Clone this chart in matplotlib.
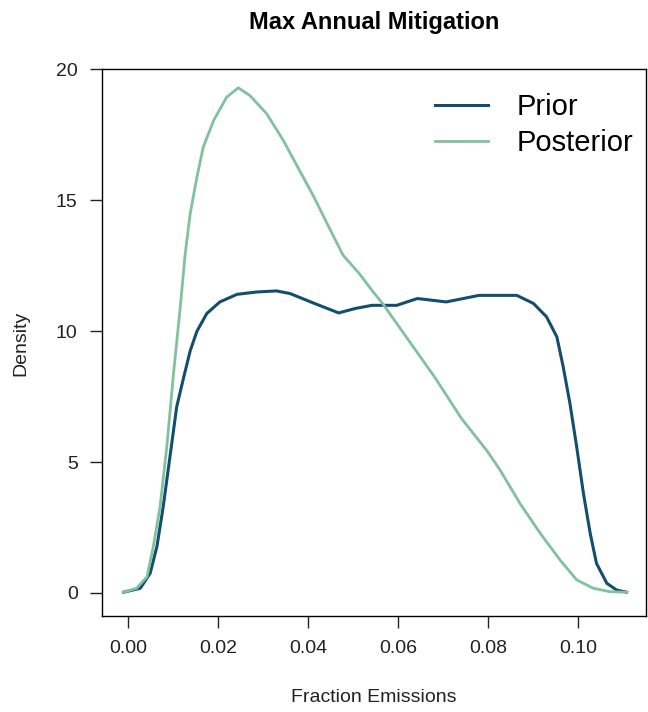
import matplotlib.pyplot as plt

plt.rcParams['font.family'] = ['Liberation Sans', 'DejaVu Sans']

# kernel density estimates of the mitigation fraction
prior_x = [-0.001, 0.0027, 0.0049, 0.0064, 0.0078, 0.0093, 0.0108, 0.0123, 0.0138,
           0.0153, 0.0175, 0.0204, 0.0242, 0.0286, 0.033, 0.036, 0.0413, 0.0468,
           0.0505, 0.0542, 0.0597, 0.0643, 0.0707, 0.078, 0.0827, 0.0864, 0.0901,
           0.093, 0.0953, 0.0967, 0.0982, 0.0997, 0.1012, 0.1027, 0.1041, 0.1064,
           0.1086, 0.1108]
prior_y = [0.03, 0.18, 0.75, 1.77, 3.29, 5.2, 7.11, 8.2, 9.25,
           10.0, 10.68, 11.12, 11.41, 11.5, 11.54, 11.44, 11.07, 10.7,
           10.87, 10.99, 10.99, 11.25, 11.12, 11.37, 11.37, 11.37, 11.06,
           10.55, 9.78, 8.64, 7.24, 5.58, 3.8, 2.28, 1.13, 0.37,
           0.11, 0.03]

post_x = [-0.001, 0.0019, 0.0042, 0.0056, 0.0071, 0.0086, 0.0101, 0.0116, 0.0127,
          0.0138, 0.0153, 0.0167, 0.019, 0.0219, 0.0245, 0.0271, 0.0308, 0.0345,
          0.0377, 0.0413, 0.045, 0.0478, 0.0514, 0.0542, 0.0566, 0.0624, 0.0682,
          0.074, 0.0799, 0.0827, 0.0871, 0.0916, 0.096, 0.0997, 0.1034, 0.1071,
          0.1108]
post_y = [0.03, 0.18, 0.62, 1.77, 3.29, 5.58, 8.39, 10.93, 12.97,
          14.49, 15.89, 17.03, 18.05, 18.94, 19.3, 19.0, 18.31, 17.29,
          16.27, 15.13, 13.85, 12.9, 12.2, 11.56, 11.05, 9.64, 8.23,
          6.69, 5.4, 4.69, 3.42, 2.28, 1.26, 0.5, 0.18, 0.05,
          0.03]

x_ticks = [0.00, 0.02, 0.04, 0.06, 0.08, 0.10]
y_ticks = [0, 5, 10, 15, 20]

prior_col = '#144e6f'
post_col = '#80c19e'

fig = plt.figure(figsize=(6.48, 7.12), dpi=100)
ax = fig.add_axes([0.1574, 0.1348, 0.8395, 0.7676])

ax.plot(prior_x, prior_y, color=prior_col, lw=2.2, label='Prior')
ax.plot(post_x, post_y, color=post_col, lw=2.0, label='Posterior')

ax.set_xlim(-0.0058, 0.1151)
ax.set_ylim(-0.88, 19.98)
ax.set_xticks(x_ticks)
ax.set_xticklabels([f'{v:.2f}' for v in x_ticks])
ax.set_yticks(y_ticks)
ax.set_yticklabels([str(v) for v in y_ticks])

# base-graphics look: full box, long outward ticks
for s in ax.spines.values():
    s.set_linewidth(1.0)
ax.tick_params(length=8.5, width=1.0, labelsize=14, colors='#222222')
ax.tick_params(axis='x', pad=9)
ax.tick_params(axis='y', pad=9)

fig.text(0.577, 1 - 22 / 712, 'Max Annual Mitigation', fontsize=17,
         fontweight='bold', ha='center', va='center')
fig.text(0.577, 1 - 698 / 712, 'Fraction Emissions', fontsize=14,
         ha='center', va='center', color='#222222')
fig.text(21 / 648, 1 - 343 / 712, 'Density', fontsize=14, rotation=90,
         ha='center', va='center', color='#222222')

ax.legend(loc='upper left', bbox_to_anchor=(435 / 648, 1 - 93 / 712),
          bbox_transform=fig.transFigure, frameon=False, fontsize=21,
          handlelength=1.83, handletextpad=0.97, labelspacing=0.28,
          borderpad=0, borderaxespad=0)

fig.savefig('out.png', dpi=100)
